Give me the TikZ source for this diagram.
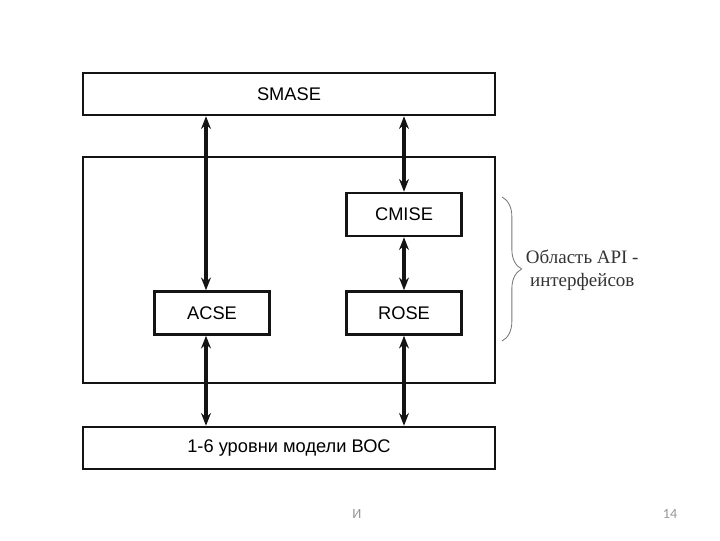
\documentclass[tikz,border=0pt]{standalone}
\usepackage{fontspec}
\setmainfont{Liberation Sans}
\newfontfamily\serifcyr{Liberation Serif}
\newfontfamily\slidefont{Carlito}
\usetikzlibrary{arrows.meta,positioning,decorations.pathreplacing}
\definecolor{cLine}{RGB}{20,20,20}
\definecolor{cBrace}{RGB}{120,120,120}
\definecolor{cNote}{RGB}{150,150,150}
\tikzset{
  layerbox/.style={rectangle,draw=cLine,line width=1.8pt,fill=white,
                   inner sep=0pt,font=\fontsize{13}{15}\selectfont},
  widebox/.style={layerbox,minimum width=412*0.025cm,minimum height=42*0.025cm},
  elembox/.style={layerbox,minimum width=115*0.025cm,minimum height=43*0.025cm},
  dblarr/.style={{Stealth[length=9pt,width=7pt]}-{Stealth[length=9pt,width=7pt]},
                 line width=2.2pt,color=cLine}
}
\begin{document}
\begin{tikzpicture}[x=0.025cm,y=-0.025cm]
  \useasboundingbox (0,0) rectangle (720,540);

  % outer layers
  \node[widebox] (smase) at (289,94) {SMASE};
  \node[layerbox,minimum width=412*0.025cm,minimum height=226*0.025cm] (apibox) at (289,270) {};
  \node[widebox] (osi) at (289,448) {1-6 уровни модели ВОС};

  % service elements
  \node[elembox] (cmise) at (404,214.5) {CMISE};
  \node[elembox] (acse) at (212,313) {ACSE};
  \node[elembox] (rose) at (404,313) {ROSE};

  % arrow lines
  \coordinate (lx) at (206,0);
  \coordinate (rx) at (404,0);
  \draw[dblarr] (smase.south -| lx) -- (acse.north -| lx);
  \draw[dblarr] (smase.south -| rx) -- (cmise.north);
  \draw[dblarr] (cmise.south) -- (rose.north);
  \draw[dblarr] (acse.south -| lx) -- (osi.north -| lx);
  \draw[dblarr] (rose.south) -- (osi.north -| rx);

  % API area
  \coordinate (btop) at (502,197);
  \coordinate (bbot) at (502,341);
  \draw[cBrace,line width=0.6pt,decorate,decoration={brace,amplitude=14pt}]
    (btop) -- (bbot);
  \node[font=\serifcyr\fontsize{13.5}{16}\selectfont,text=black!80,align=center,
        anchor=west] (apilbl) at (521,270) {Область API -\\интерфейсов};

  % slide footer
  \node[font=\slidefont\fontsize{10}{12}\selectfont,text=cNote] (ftr) at (357,514) {И};
  \node[font=\slidefont\fontsize{10}{12}\selectfont,text=cNote] (pgno) at (670,514) {14};
\end{tikzpicture}
\end{document}
